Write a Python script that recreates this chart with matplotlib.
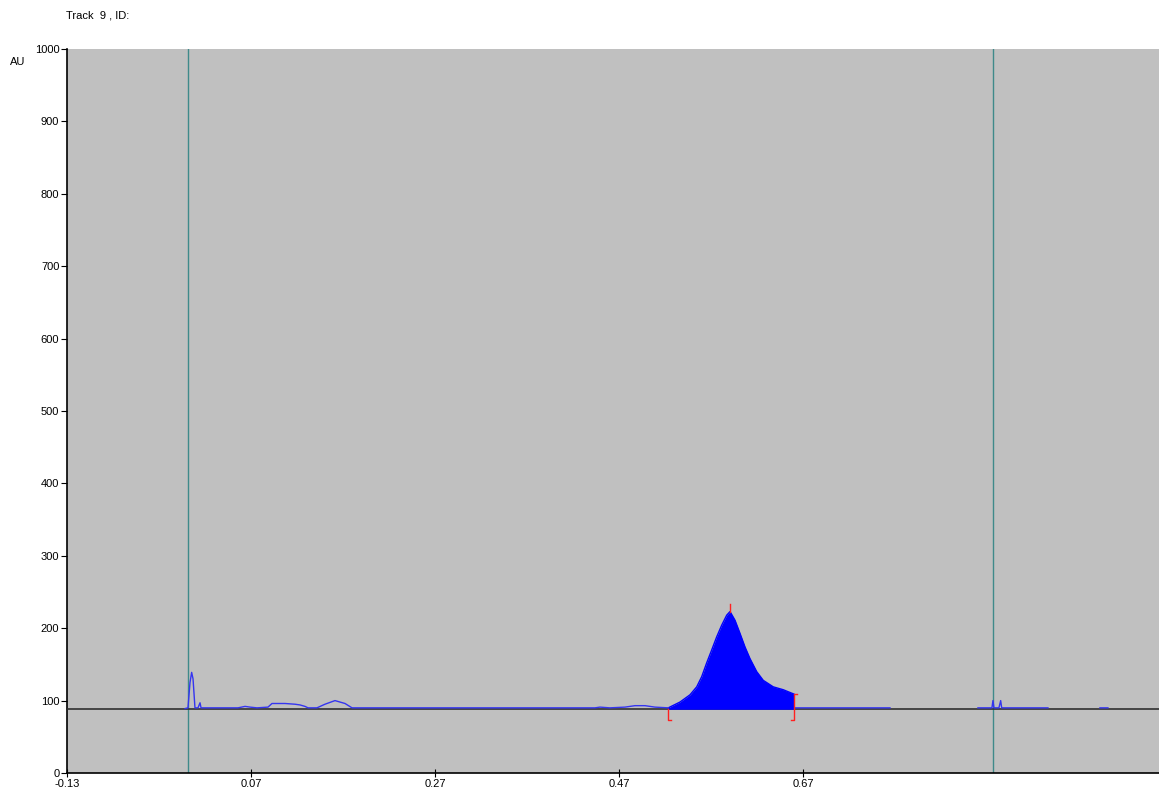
import matplotlib
matplotlib.use("Agg")
import matplotlib.pyplot as plt
import numpy as np

plt.rcParams['font.family'] = ['Liberation Sans', 'DejaVu Sans']

# chromatogram trace (nan = gap in the trace)
trace_x = [-0.0017, 0.0015, 0.0037, 0.0055, 0.0070, 0.0091, 0.0124, 0.0146, 0.0157,
           0.0559, 0.0635, 0.0690, 0.0765, 0.0885, 0.0928, 0.1070, 0.1178, 0.1233,
           0.1287, 0.1320, 0.1417, 0.1504, 0.1613, 0.1722, 0.1798, 0.4440, 0.4493,
           0.4600, 0.4765, 0.4874, 0.4983, 0.5091, 0.5236, np.nan,
           0.6613, 0.7646, np.nan,
           0.8602, 0.8754, 0.8765, 0.8776, 0.8830, 0.8849, 0.8860, 0.9363, np.nan,
           0.9928, 1.0015]
trace_y = [89, 90, 125, 139, 130, 90, 90, 97, 90,
           90, 92, 91, 90, 91, 96, 96, 95, 94,
           92, 90, 90, 95, 100, 96, 90, 90, 91,
           90, 91, 93, 93, 91, 90, np.nan,
           90, 90, np.nan,
           90, 90, 100, 90, 90, 100, 90, 90, np.nan,
           90, 90]

# integrated peak
peak_x = [0.5236, 0.5363, 0.5472, 0.5545, 0.5599, 0.5653, 0.5708, 0.5762, 0.5816,
          0.5871, 0.5907, 0.5961, 0.6015, 0.6070, 0.6124, 0.6197, 0.6268, 0.6377,
          0.6486, 0.6602]
peak_y = [90, 98, 108, 119, 133, 152, 170, 188, 204,
          218, 223, 211, 193, 174, 158, 140, 128, 119,
          115, 109]

baseline = 88
peak_max_x = 0.5907
peak_start, peak_end = 0.5236, 0.6602
marker_lines = [0.0015, 0.8765]

x_ticks = [-0.13, 0.07, 0.27, 0.47, 0.67]
y_ticks = [0, 100, 200, 300, 400, 500, 600, 700, 800, 900, 1000]

fig = plt.figure(figsize=(11.59, 8), dpi=100)
ax = fig.add_axes([67 / 1159, 27 / 800, 1 - 67 / 1159, 724 / 800])
ax.set_facecolor("#c0c0c0")

ax.set_xlim(-0.13, 1.057)
ax.set_ylim(0, 1000)

for xv in marker_lines:
    ax.axvline(xv, color="#3f8a8a", lw=1.0, zorder=2)

ax.axhline(baseline, color="#303030", lw=1.2, zorder=3)

ax.fill_between(peak_x, baseline, peak_y, color="#0000ff", lw=0, zorder=4)
ax.plot(peak_x, peak_y, color="#0000ff", lw=1.0, zorder=5)
ax.plot(trace_x, trace_y, color="#3535f0", lw=1.0, zorder=5)

# red integration marks
red = "#ff2020"
ax.plot([peak_max_x, peak_max_x], [222, 234], color=red, lw=1.0, zorder=6)
ax.plot([peak_start, peak_start, peak_start + 0.003], [baseline, 73, 73], color=red, lw=1.0, zorder=6)
ax.plot([peak_end + 0.003, peak_end, peak_end, peak_end - 0.003],
        [109, 109, 73, 73], color=red, lw=1.0, zorder=6)

for s in ["top", "right"]:
    ax.spines[s].set_visible(False)
ax.spines["left"].set_linewidth(1.2)
ax.spines["bottom"].set_linewidth(1.2)

ax.set_xticks(x_ticks)
ax.set_xticklabels(["%.2f" % v for v in x_ticks])
ax.set_yticks(y_ticks)
ax.tick_params(axis="both", labelsize=8, length=4, width=0.8, pad=1.5)
ax.tick_params(axis="x", direction="inout", length=6)

fig.text(66 / 1159, 1 - 16 / 800, "Track  9 , ID:", fontsize=8, ha="left", va="center")
fig.text(10 / 1159, 1 - 62 / 800, "AU", fontsize=8, ha="left", va="center")

fig.savefig("out.png", dpi=100)
